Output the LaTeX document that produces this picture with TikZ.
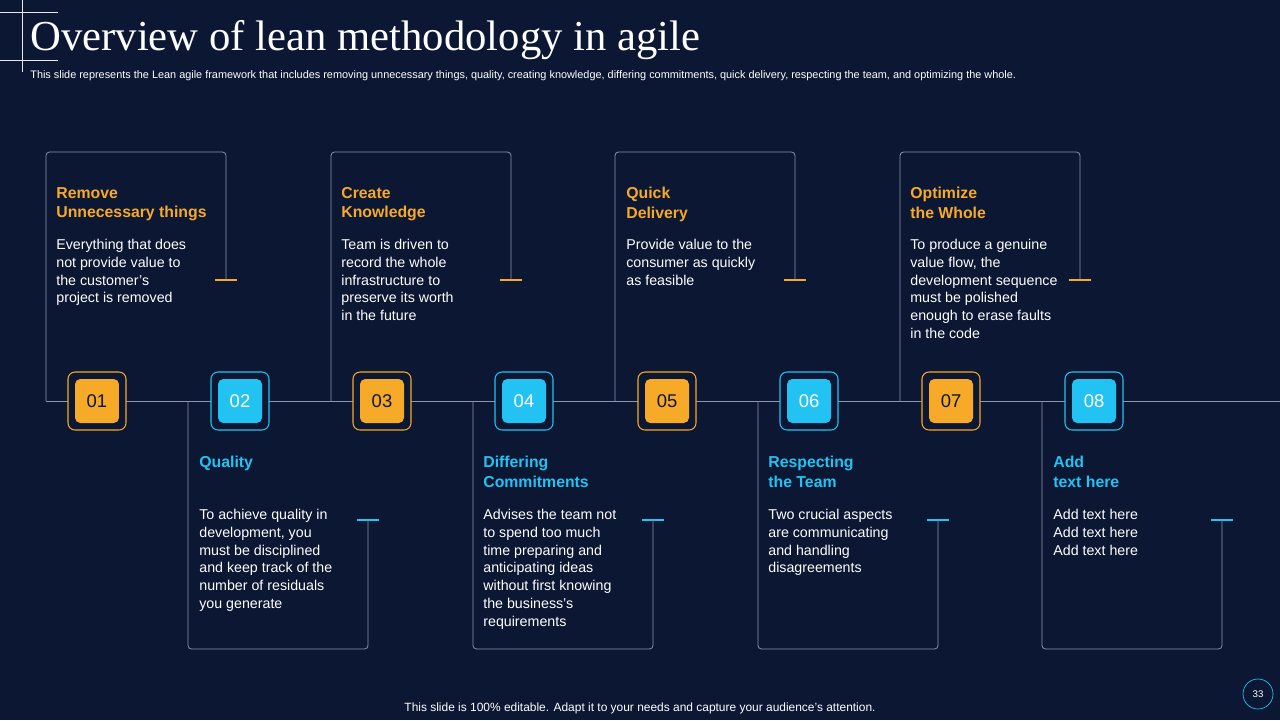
\documentclass[tikz,border=0pt]{standalone}
\usepackage{fontspec}
\setmainfont{Liberation Sans}
\newfontfamily\titlefont{Liberation Serif}
\usetikzlibrary{positioning}
\definecolor{bgnavy}{HTML}{0C1733}
\definecolor{leanorange}{HTML}{F7A928}
\definecolor{leancyan}{HTML}{22C3F2}
\definecolor{framegrey}{HTML}{8C95AA}

\tikzset{
  frameline/.style={draw=framegrey, line width=0.45pt},
  heading/.style={anchor=north west, inner sep=0pt, align=left, font=\fontsize{9}{11}\selectfont\bfseries},
  bodytext/.style={anchor=north west, inner sep=0pt, align=left, text=white, font=\fontsize{8.1}{10.1}\selectfont},
  numouter/.style={draw=#1, rounded corners=4pt, minimum size=1.16cm, line width=0.6pt, fill=bgnavy},
  numinner/.style={fill=#1, rounded corners=3pt, minimum size=0.88cm, font=\fontsize{10.5}{12}\selectfont}
}

\begin{document}
\begin{tikzpicture}[x=0.02cm, y=-0.02cm]
\fill[bgnavy] (0,0) rectangle (1280,720);
\useasboundingbox (0,0) rectangle (1280,720);

% corner grid
\draw[framegrey!20, line width=0.3pt] (0,12) -- (58,12) (0,60) -- (58,60) (22,0) -- (22,72);

% title
\node[anchor=west, text=white, inner sep=0pt, font=\titlefont\fontsize{24.3}{27}\selectfont] (Title) at (30,40) {Overview of lean methodology in agile};
\node[anchor=west, text=white, inner sep=0pt, font=\fontsize{6.2}{8}\selectfont] (Sub) at (30,76) {This slide represents the Lean agile framework that includes removing unnecessary things, quality, creating knowledge, differing commitments, quick delivery, respecting the team, and optimizing the whole.};

% timeline
\draw[frameline] (46,401) -- (1280,401);

% upper frames
\foreach \x in {46,331,615,900}{
  \draw[frameline, rounded corners=2pt] (\x,401) -- (\x,152) -- (\x+180,152) -- (\x+180,280);
  \draw[leanorange, line width=1pt] (\x+169,280) -- (\x+191,280);
}
% lower frames
\foreach \x in {188,473,758,1042}{
  \draw[frameline, rounded corners=2pt] (\x,401) -- (\x,649) -- (\x+180,649) -- (\x+180,520);
  \draw[leancyan, line width=1pt] (\x+169,520) -- (\x+191,520);
}

% number markers
\foreach \n/\x/\c/\t in {1/97/leanorange/bgnavy, 2/240/leancyan/white, 3/382/leanorange/bgnavy, 4/524/leancyan/white,
                         5/667/leanorange/bgnavy, 6/809/leancyan/white, 7/951/leanorange/bgnavy, 8/1094/leancyan/white}{
  \node[numouter=\c] (M\n) at (\x,401) {};
  \node[numinner=\c, text=\t] at (M\n) {0\n};
}

% upper texts
\node[heading, text=leanorange] (H1) at (56,187) {Remove\\Unnecessary things};
\node[bodytext] (B1) at (56,239) {Everything that does\\not provide value to\\the customer's\\project is removed};
\node[heading, text=leanorange] (H3) at (341,187) {Create\\Knowledge};
\node[bodytext] (B3) at (341,239) {Team is driven to\\record the whole\\infrastructure to\\preserve its worth\\in the future};
\node[heading, text=leanorange] (H5) at (626,187) {Quick\\Delivery};
\node[bodytext] (B5) at (626,239) {Provide value to the\\consumer as quickly\\as feasible};
\node[heading, text=leanorange] (H7) at (910,187) {Optimize\\the Whole};
\node[bodytext] (B7) at (910,239) {To produce a genuine\\value flow, the\\development sequence\\must be polished\\enough to erase faults\\in the code};

% lower texts
\node[heading, text=leancyan] (H2) at (199,456) {Quality};
\node[bodytext] (B2) at (199,509) {To achieve quality in\\development, you\\must be disciplined\\and keep track of the\\number of residuals\\you generate};
\node[heading, text=leancyan] (H4) at (483,456) {Differing\\Commitments};
\node[bodytext] (B4) at (483,509) {Advises the team not\\to spend too much\\time preparing and\\anticipating ideas\\without first knowing\\the business's\\requirements};
\node[heading, text=leancyan] (H6) at (768,456) {Respecting\\the Team};
\node[bodytext] (B6) at (768,509) {Two crucial aspects\\are communicating\\and handling\\disagreements};
\node[heading, text=leancyan] (H8) at (1053,456) {Add\\text here};
\node[bodytext] (B8) at (1053,509) {Add text here\\Add text here\\Add text here};

% footer
\node[text=white, inner sep=0pt, font=\fontsize{6.8}{8}\selectfont] (Foot) at (640,708) {This slide is 100\% editable. Adapt it to your needs and capture your audience's attention.};
\node[circle, draw=leancyan, minimum size=0.6cm, inner sep=0pt, text=white, font=\fontsize{5.5}{6}\selectfont] (Page) at (1258,694) {33};
\end{tikzpicture}
\end{document}
